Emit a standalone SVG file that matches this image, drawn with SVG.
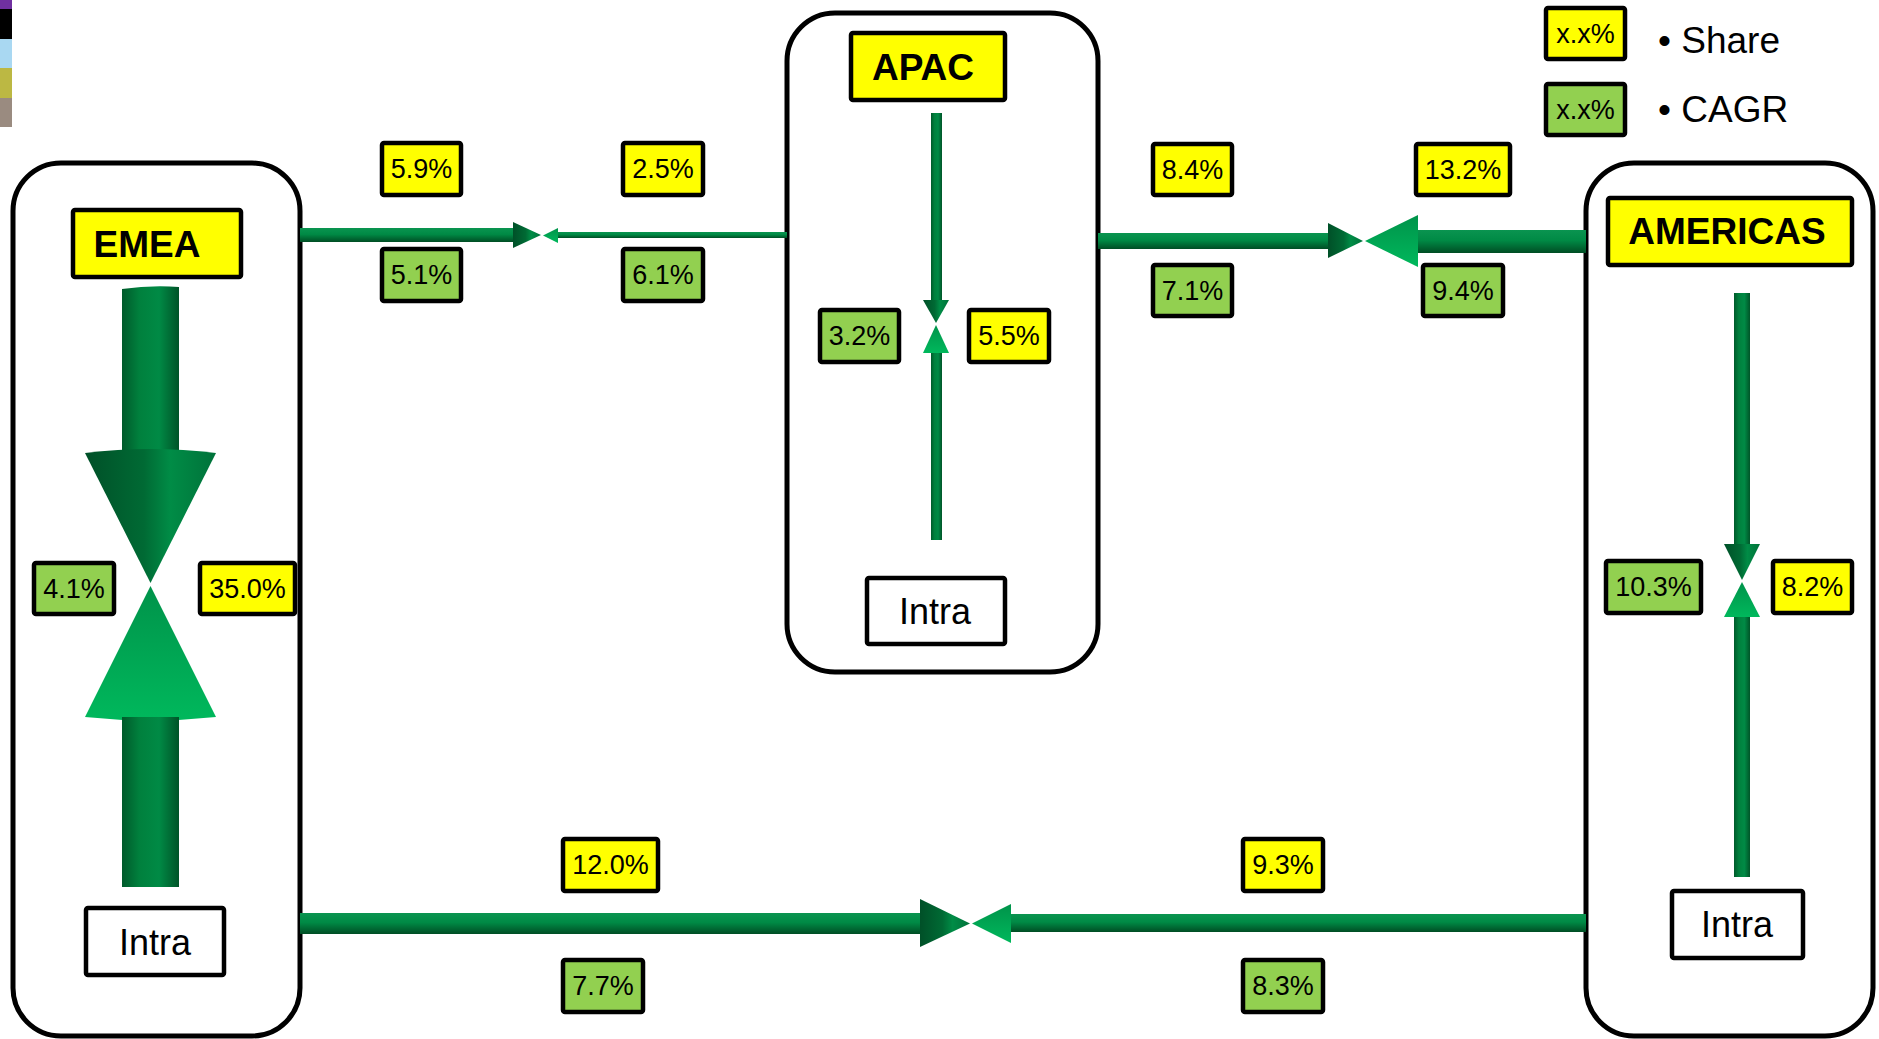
<svg xmlns="http://www.w3.org/2000/svg" width="1879" height="1039" viewBox="0 0 1879 1039">
<defs>
<style>
.node{fill:#fff;stroke:#000;stroke-width:5}
.title{fill:#ffff00;stroke:#000;stroke-width:4.5}
.intra{fill:#fff;stroke:#000;stroke-width:4.5}
.share{fill:#ffff00;stroke:#000;stroke-width:4.5}
.cagr{fill:#92d050;stroke:#000;stroke-width:4.5}
.tt{font-family:"Liberation Sans",Arial,sans-serif;font-weight:bold;font-size:37px;fill:#000;text-anchor:middle}
.it{font-family:"Liberation Sans",Arial,sans-serif;font-size:36px;fill:#000;text-anchor:middle}
.lt{font-family:"Liberation Sans",Arial,sans-serif;font-size:27px;fill:#000;text-anchor:middle}
.lg{font-family:"Liberation Sans",Arial,sans-serif;font-size:37px;fill:#000}
.v{fill:url(#gv)}
.h{fill:url(#gh)}
.cd{fill:url(#gcd)}
.cl{fill:url(#gcl)}
</style>
<linearGradient id="gv" x1="0" y1="0" x2="1" y2="0">
<stop offset="0" stop-color="#005a2b"/>
<stop offset="0.3" stop-color="#00803d"/>
<stop offset="0.65" stop-color="#008a45"/>
<stop offset="1" stop-color="#005428"/>
</linearGradient>
<linearGradient id="gh" x1="0" y1="0" x2="0" y2="1">
<stop offset="0" stop-color="#0a9450"/>
<stop offset="0.45" stop-color="#008a45"/>
<stop offset="1" stop-color="#004d24"/>
</linearGradient>
<linearGradient id="gcd" x1="0" y1="0" x2="1" y2="0">
<stop offset="0" stop-color="#005028"/>
<stop offset="0.45" stop-color="#006a34"/>
<stop offset="0.65" stop-color="#008c46"/>
<stop offset="1" stop-color="#00723a"/>
</linearGradient>
<linearGradient id="gcl" x1="0" y1="0" x2="0" y2="1">
<stop offset="0" stop-color="#00934a"/>
<stop offset="1" stop-color="#00b85c"/>
</linearGradient>
</defs>
<rect width="1879" height="1039" fill="#fff"/>
<g id="colorstrip">
<rect x="0" y="0" width="12" height="9" fill="#7030a0"/>
<rect x="0" y="9" width="12" height="30" fill="#000"/>
<rect x="0" y="39" width="12" height="29" fill="#a9d8f2"/>
<rect x="0" y="68" width="12" height="30" fill="#bcb843"/>
<rect x="0" y="98" width="12" height="29" fill="#9a8b80"/>
</g>
<g id="legend">
<rect class="share" x="1546" y="8" width="79" height="51" rx="2"/>
<text class="lt" x="1585.5" y="43">x.x%</text>
<rect class="cagr" x="1546" y="84" width="79" height="51" rx="2"/>
<text class="lt" x="1585.5" y="119">x.x%</text>
<text class="lg" x="1658" y="53">• Share</text>
<text class="lg" x="1658" y="122">• CAGR</text>
</g>
<g id="node-emea">
<rect class="node" x="13" y="163" width="287" height="873" rx="48"/>
<rect class="title" x="73" y="210" width="168" height="67" rx="2"/>
<text class="tt" x="147" y="257">EMEA</text>
<rect class="intra" x="86" y="908" width="138" height="67" rx="2"/>
<text class="it" x="155" y="955">Intra</text>
</g>
<g id="node-apac">
<rect class="node" x="787" y="13" width="311" height="659" rx="48"/>
<rect class="title" x="851" y="33" width="154" height="67" rx="2"/>
<text class="tt" x="923" y="80">APAC</text>
<rect class="intra" x="867" y="578" width="138" height="66" rx="2"/>
<text class="it" x="935" y="624">Intra</text>
</g>
<g id="node-americas">
<rect class="node" x="1586" y="163" width="287" height="873" rx="48"/>
<rect class="title" x="1608" y="198" width="244" height="67" rx="2"/>
<text class="tt" x="1727" y="244">AMERICAS</text>
<rect class="intra" x="1672" y="891" width="131" height="67" rx="2"/>
<text class="it" x="1737" y="937">Intra</text>
</g>
<g id="connectors">
<path class="v" d="M122,289 Q150.5,285 179,287 L179,453 L122,453 Z"/>
<path class="cd" d="M85,453 Q150.5,445 216,453 L150.5,583 Z"/>
<path class="cl" d="M150.5,586 L216,717 Q150.5,724 85,717 Z"/>
<rect class="v" x="122" y="717" width="57" height="170"/>
<rect class="v" x="931" y="113" width="11" height="187"/>
<polygon class="cd" points="923,300 949,300 936,323"/>
<polygon class="cl" points="936,325 949,353 923,353"/>
<rect class="v" x="931" y="353" width="11" height="187"/>
<rect class="v" x="1734" y="293" width="16" height="251"/>
<polygon class="cd" points="1724,544 1760,544 1742,580"/>
<polygon class="cl" points="1742,582 1760,617 1724,617"/>
<rect class="v" x="1734" y="617" width="16" height="260"/>
<rect class="h" x="300" y="228" width="213" height="14"/>
<polygon class="cd" points="513,222 513,248 541,235"/>
<polygon class="cl" points="543,235.5 558,228 558,243"/>
<rect class="h" x="558" y="232" width="229" height="6"/>
<rect class="h" x="1098" y="233" width="230" height="16"/>
<polygon class="cd" points="1328,223 1328,258 1363,241"/>
<polygon class="cl" points="1365,241 1418,215 1418,267"/>
<rect class="h" x="1418" y="230" width="168" height="23"/>
<rect class="h" x="300" y="913" width="620" height="21"/>
<polygon class="cd" points="920,899 920,947 970,923.5"/>
<polygon class="cl" points="972,923.5 1011,904 1011,943"/>
<rect class="h" x="1011" y="914" width="575" height="18"/>
</g>
<g id="labels">
<rect class="cagr" x="34" y="563" width="80" height="51" rx="2"/><text class="lt" x="74" y="598">4.1%</text>
<rect class="share" x="200" y="563" width="95" height="51" rx="2"/><text class="lt" x="247.5" y="598">35.0%</text>
<rect class="cagr" x="820" y="310" width="79" height="52" rx="2"/><text class="lt" x="859.5" y="345">3.2%</text>
<rect class="share" x="969" y="310" width="80" height="52" rx="2"/><text class="lt" x="1009" y="345">5.5%</text>
<rect class="cagr" x="1606" y="561" width="95" height="52" rx="2"/><text class="lt" x="1653.5" y="596">10.3%</text>
<rect class="share" x="1773" y="561" width="79" height="52" rx="2"/><text class="lt" x="1812.5" y="596">8.2%</text>
<rect class="share" x="382" y="143" width="79" height="52" rx="2"/><text class="lt" x="421.5" y="178">5.9%</text>
<rect class="cagr" x="382" y="249" width="79" height="52" rx="2"/><text class="lt" x="421.5" y="284">5.1%</text>
<rect class="share" x="623" y="143" width="80" height="52" rx="2"/><text class="lt" x="663" y="178">2.5%</text>
<rect class="cagr" x="623" y="249" width="80" height="52" rx="2"/><text class="lt" x="663" y="284">6.1%</text>
<rect class="share" x="1153" y="144" width="79" height="51" rx="2"/><text class="lt" x="1192.5" y="179">8.4%</text>
<rect class="cagr" x="1153" y="265" width="79" height="51" rx="2"/><text class="lt" x="1192.5" y="300">7.1%</text>
<rect class="share" x="1416" y="144" width="94" height="51" rx="2"/><text class="lt" x="1463" y="179">13.2%</text>
<rect class="cagr" x="1423" y="265" width="80" height="51" rx="2"/><text class="lt" x="1463" y="300">9.4%</text>
<rect class="share" x="563" y="839" width="95" height="52" rx="2"/><text class="lt" x="610.5" y="874">12.0%</text>
<rect class="cagr" x="563" y="960" width="80" height="52" rx="2"/><text class="lt" x="603" y="995">7.7%</text>
<rect class="share" x="1243" y="839" width="80" height="52" rx="2"/><text class="lt" x="1283" y="874">9.3%</text>
<rect class="cagr" x="1243" y="960" width="80" height="52" rx="2"/><text class="lt" x="1283" y="995">8.3%</text>
</g>
</svg>
